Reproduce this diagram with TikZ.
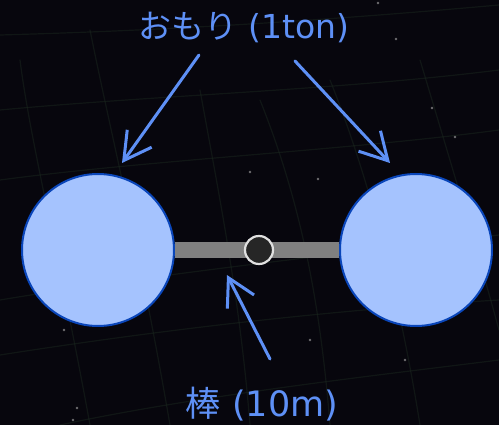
\documentclass[tikz,border=0pt]{standalone}
\usepackage{fontspec}
\setmainfont{DejaVu Sans}
\newfontfamily\jpfont{Noto Sans CJK JP}
\usetikzlibrary{arrows.meta,calc}
\definecolor{sky}{HTML}{07060D}
\definecolor{gridln}{HTML}{1C2A20}
\definecolor{pt}{HTML}{5E90F6}
\definecolor{wfill}{HTML}{A5C3FE}
\definecolor{wedge}{HTML}{0A46BA}
\definecolor{rodcol}{HTML}{808080}

\begin{document}
\begin{tikzpicture}[x=1pt, y=-1pt, line cap=round, line join=round,
  wt/.style={circle, draw=wedge, fill=wfill, line width=2pt, minimum size=152pt, inner sep=0pt},
  pivot/.style={circle, draw=white!88!black, fill=black!85, line width=2.2pt, minimum size=28pt, inner sep=0pt},
  lbl/.style={text=pt, font=\fontsize{33}{36}\selectfont},
  ptr/.style={-{Straight Barb[length=27pt, width=30pt, line width=3pt]}, pt, line width=3pt},
  gl/.style={gridln, line width=1.2pt, opacity=0.45},
  star/.style={fill=white!70!black, opacity=0.6}]

% background
\fill[sky] (0,0) rectangle (499,425);
\useasboundingbox (0,0) rectangle (499,425);

% faint curved grid
\draw[gl] (0,35) .. controls (180,30) and (330,20) .. (499,5);
\draw[gl] (0,110) .. controls (160,95) and (340,90) .. (499,70);
\draw[gl] (0,180) .. controls (150,160) and (350,150) .. (499,130);
\draw[gl] (0,300) .. controls (150,275) and (330,255) .. (499,235);
\draw[gl] (0,355) .. controls (160,330) and (330,310) .. (499,300);
\draw[gl] (60,425) .. controls (200,395) and (380,375) .. (499,360);
\draw[gl] (20,60) .. controls (30,140) and (60,260) .. (90,425);
\draw[gl] (90,30) .. controls (110,130) and (140,250) .. (170,425);
\draw[gl] (200,90) .. controls (220,200) and (240,300) .. (250,425);
\draw[gl] (260,100) .. controls (300,200) and (320,300) .. (330,425);
\draw[gl] (330,80) .. controls (370,180) and (400,300) .. (420,425);
\draw[gl] (420,60) .. controls (450,160) and (480,260) .. (499,330);

% stars
\foreach \sx/\sy in {378/3, 396/39, 432/108, 455/137, 250/172, 318/179, 405/360, 64/330, 77/408, 73/420, 310/340}
  \fill[star] (\sx,\sy) circle (1.3pt);

% weights and rod
\node[wt] (wl) at (98,250) {};
\node[wt] (wr) at (416,250) {};
\draw[rodcol, line width=16pt, line cap=butt] (wl.east) -- (wr.west);
\node[pivot] (pv) at (259,250) {};

% labels
\node[lbl] (top) at (244,27) {{\jpfont おもり} (1ton)};
\node[lbl, font=\fontsize{35}{38}\selectfont] (bot) at (262,404) {{\jpfont 棒} (10m)};

\coordinate (a1) at (199,55);
\coordinate (t1) at (122,163);
\coordinate (a2) at (295,61);
\coordinate (t2) at (390,163);
\coordinate (a3) at (270,359);
\coordinate (t3) at (227,275);

\draw[ptr] (a1) -- (t1);
\draw[ptr] (a2) -- (t2);
\draw[ptr] (a3) -- (t3);

\end{tikzpicture}
\end{document}
